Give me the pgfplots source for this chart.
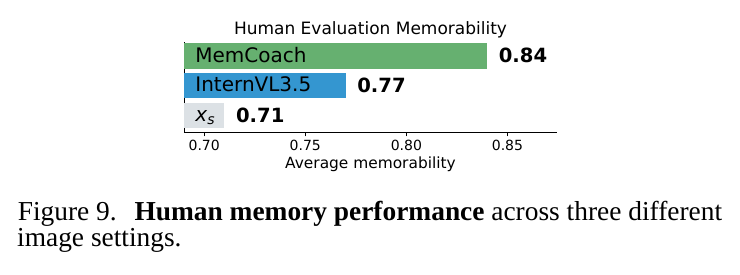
\documentclass[border=0pt]{standalone}
\usepackage{fontspec}
\setmainfont{Liberation Serif}
\newfontfamily\dejavu{DejaVu Sans}
\usepackage{pgfplots}
\pgfplotsset{compat=1.18}
\definecolor{cgreen}{RGB}{102,176,112}
\definecolor{cblue}{RGB}{52,150,208}
\definecolor{cgray}{RGB}{220,225,229}
\begin{document}
\begin{tikzpicture}[x=1pt,y=1pt]
\useasboundingbox (0,0) rectangle (370,137);
\begin{axis}[
  at={(92pt,70.85pt)}, anchor=south west,
  scale only axis, width=186.5pt, height=45.15pt,
  xmin=0.69, xmax=0.8745, ymin=-0.57, ymax=2.465,
  axis x line*=bottom, axis y line*=left,
  axis line style={line width=0.45pt, black},
  ytick=\empty,
  xtick={0.70,0.75,0.80,0.85},
  tick align=outside, major tick length=2pt,
  tick style={line width=0.45pt, black},
  title={Human Evaluation Memorability},
  title style={font=\dejavu\fontsize{8.5}{10}\selectfont, at={(axis description cs:0.5,1)}, anchor=base, yshift=-2.15pt, inner sep=0pt},
  xlabel={Average memorability},
  xlabel style={font=\dejavu\fontsize{7.7}{9}\selectfont, at={(axis description cs:0.5,0)}, anchor=base, yshift=-18pt, inner sep=0pt},
  xticklabel style={font=\dejavu\fontsize{7}{8}\selectfont, anchor=base, yshift=-7pt, inner sep=0pt},
  xticklabel={\pgfmathprintnumber[fixed, fixed zerofill, precision=2, assume math mode=true]{\tick}},
  nodes near coords,
  point meta=x,
  nodes near coords={\pgfmathprintnumber[fixed, fixed zerofill, precision=2, assume math mode=true]{\pgfplotspointmeta}},
  every node near coord/.append style={font=\dejavu\bfseries\fontsize{9.8}{11}\selectfont, anchor=west, inner sep=0pt, xshift=5.6pt, text=black},
]
\addplot[xbar, bar shift=0pt, bar width=0.86, fill=cgray, draw=none] coordinates {(0.71,0)};
\addplot[xbar, bar shift=0pt, bar width=0.86, fill=cblue, draw=none] coordinates {(0.77,1)};
\addplot[xbar, bar shift=0pt, bar width=0.86, fill=cgreen, draw=none] coordinates {(0.84,2)};
\node[anchor=base west, inner sep=0pt, xshift=5.5pt, yshift=-3.1pt, font=\dejavu\fontsize{10}{12}\selectfont] at (axis cs:0.69,2) {MemCoach};
\node[anchor=base west, inner sep=0pt, xshift=5.5pt, yshift=-3.1pt, font=\dejavu\fontsize{10}{12}\selectfont] at (axis cs:0.69,1) {InternVL3.5};
\node[anchor=base west, inner sep=0pt, xshift=5.5pt, yshift=-3.1pt, font=\dejavu\fontsize{10}{12}\selectfont] at (axis cs:0.69,0) {\textit{x}\textsubscript{\textit{s}}};
\end{axis}
\node[anchor=base west, inner sep=0pt, font=\fontsize{13.7}{13}\selectfont] at (8.7,26.65) {Figure 9.\hspace{0.65em}\textbf{Human memory performance} across three different};
\node[anchor=base west, inner sep=0pt, font=\fontsize{13.7}{13}\selectfont] at (8.4,14) {image settings.};
\end{tikzpicture}
\end{document}
